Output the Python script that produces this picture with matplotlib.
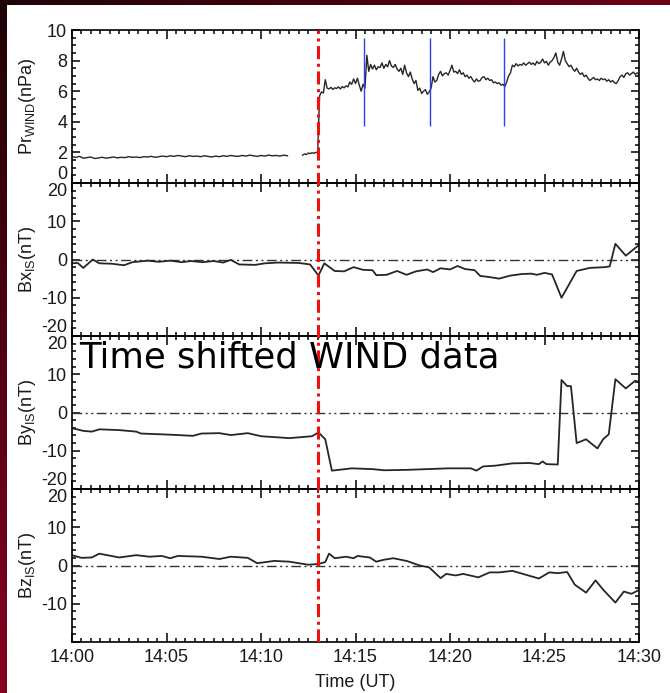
import numpy as np
import matplotlib
matplotlib.use("Agg")
import matplotlib.pyplot as plt
from matplotlib.ticker import MultipleLocator
from matplotlib.patches import Rectangle

plt.rcParams['font.family'] = ['Liberation Sans', 'DejaVu Sans']
plt.rcParams['mathtext.fontset'] = 'custom'
plt.rcParams['mathtext.rm'] = 'Liberation Sans'
plt.rcParams['mathtext.it'] = 'Liberation Sans:italic'
plt.rcParams['axes.unicode_minus'] = False

# ---------------- data (minutes after 14:00 UT) ----------------
# solar-wind dynamic pressure, quiet interval
pr_t1 = np.round(np.arange(0.0, 11.41, 0.2), 2)
pr_v1 = [1.72, 1.68, 1.74, 1.62, 1.66, 1.70, 1.60, 1.64, 1.68, 1.62,
         1.66, 1.70, 1.64, 1.68, 1.66, 1.72, 1.68, 1.70, 1.66, 1.72,
         1.70, 1.74, 1.68, 1.72, 1.76, 1.72, 1.78, 1.74, 1.80, 1.76,
         1.72, 1.78, 1.74, 1.76, 1.72, 1.78, 1.74, 1.70, 1.76, 1.72,
         1.78, 1.74, 1.80, 1.76, 1.74, 1.80, 1.76, 1.82, 1.78, 1.74,
         1.80, 1.76, 1.82, 1.78, 1.80, 1.76, 1.82, 1.78]
# dynamic pressure after the data gap, through the shock
pr_t2 = np.round(np.arange(12.2, 30.01, 0.1), 2)
pr_v2 = [1.82, 1.90, 1.86, 1.96, 1.92, 1.98, 1.94, 2.00,
         2.00, 5.70, 5.95, 5.88, 6.75, 6.20, 6.15, 6.25, 6.12, 6.22,
         6.18, 6.28, 6.15, 6.30, 6.22, 6.35, 6.28, 6.60, 6.45, 6.80,
         6.50, 6.85, 6.40, 6.00, 6.45, 6.20, 8.35, 7.30, 7.75, 7.45,
         7.70, 7.40, 7.60, 7.55, 7.85, 7.50, 7.75, 7.60, 8.00, 7.65,
         7.55, 7.75, 7.45, 7.30, 7.50, 7.10, 7.70, 7.20, 6.95, 7.25,
         6.80, 6.50, 6.70, 6.05, 6.20, 5.85, 6.00, 6.10, 5.80, 5.95,
         6.20, 6.95, 6.60, 6.70, 7.10, 7.30, 7.00, 7.15, 7.20, 7.05,
         7.35, 7.70, 7.25, 7.30, 7.15, 7.40, 7.10, 7.20, 6.95, 7.05,
         6.85, 6.95, 6.75, 6.60, 6.80, 6.65, 6.70, 6.90, 6.95, 6.75,
         6.85, 6.70, 6.75, 6.55, 6.60, 6.50, 6.55, 6.40, 6.45, 6.30,
         6.60, 7.00, 7.20, 7.70, 7.60, 7.80, 7.65, 7.75, 7.70, 7.85,
         7.70, 7.80, 7.90, 7.75, 7.85, 7.70, 7.95, 7.80, 7.90, 8.10,
         7.85, 7.95, 7.70, 7.90, 8.00, 8.20, 8.50, 7.90, 7.70, 8.10,
         8.60, 8.00, 7.80, 7.60, 7.70, 7.45, 7.30, 7.50, 7.25, 7.10,
         7.20, 6.95, 7.05, 6.85, 6.70, 6.80, 6.90, 6.75, 6.80, 6.70,
         6.85, 6.75, 6.80, 6.65, 6.75, 6.60, 6.70, 6.55, 6.50, 6.70,
         6.95, 7.05, 6.90, 7.15, 7.20, 7.05, 7.15, 7.25, 7.10, 7.20,
         7.10]
pulse_times = [15.45, 18.94, 22.86]
shock_time = 13.0

bx_t = [0.0, 0.3, 0.6, 1.1, 1.45, 2.1, 2.75, 3.2, 4.0, 4.6, 5.2, 5.8, 6.3, 6.9,
        7.5, 8.0, 8.4, 8.85, 9.7, 10.2, 10.9, 12.0, 12.6, 13.04, 13.35, 13.9,
        14.4, 14.9, 15.4, 15.9, 16.1, 16.65, 17.2, 17.7, 18.2, 18.8, 19.1, 19.5,
        20.0, 20.4, 20.8, 21.3, 21.6, 22.1, 22.6, 23.2, 23.8, 24.3, 24.6, 25.0,
        25.4, 25.9, 26.7, 27.4, 28.2, 28.45, 28.75, 29.3, 30.0]
bx_v = [-1.0, -0.9, -2.2, 0.0, -1.0, -1.1, -1.5, -0.7, -0.3, -0.6, -0.3, -0.7,
        -0.4, -0.7, -0.4, -0.8, -0.1, -1.3, -1.4, -1.0, -0.8, -0.9, -1.3, -4.2,
        -1.0, -3.0, -3.1, -2.0, -2.7, -2.8, -4.1, -4.0, -3.0, -4.0, -3.1, -2.6,
        -3.3, -2.3, -2.6, -1.7, -2.5, -2.8, -4.3, -4.6, -5.0, -4.2, -3.8, -3.7,
        -4.0, -3.5, -3.9, -10.0, -3.0, -2.2, -2.0, -1.8, 4.1, 1.0, 3.8]

by_t = [0.0, 0.6, 1.05, 1.45, 2.5, 3.4, 3.65, 5.2, 6.4, 6.85, 7.8, 8.4, 9.3,
        10.0, 11.5, 12.7, 13.04, 13.4, 13.75, 14.1, 14.8, 15.9, 16.5, 17.7,
        18.8, 19.9, 21.1, 21.4, 21.75, 22.4, 23.3, 24.2, 24.7, 24.9, 25.1, 25.7,
        25.9, 26.2, 26.4, 26.7, 27.2, 27.8, 28.1, 28.4, 28.75, 29.3, 29.8, 30.0]
by_v = [-4.1, -4.8, -5.0, -4.4, -4.6, -5.0, -5.5, -5.8, -6.1, -5.5, -5.4, -5.9,
        -5.4, -6.2, -6.7, -6.2, -5.2, -7.0, -15.2, -15.0, -14.6, -14.8, -15.1,
        -15.0, -14.8, -14.6, -14.6, -15.2, -14.1, -13.9, -13.3, -13.2, -13.5,
        -12.8, -13.5, -13.6, 8.5, 6.9, 6.9, -8.0, -7.0, -9.4, -7.0, -5.7, 8.7,
        6.3, 8.3, 8.0]

bz_t = [0.0, 0.5, 1.05, 1.44, 2.5, 3.4, 4.1, 4.75, 5.2, 5.6, 6.85, 7.8, 8.4,
        9.3, 9.8, 10.7, 11.5, 12.5, 13.04, 13.4, 13.6, 13.9, 14.5, 14.9, 15.1,
        15.75, 16.1, 16.5, 17.0, 17.7, 18.4, 18.9, 19.5, 19.8, 20.3, 20.7, 21.5,
        22.1, 22.6, 23.3, 24.0, 24.7, 25.25, 25.7, 26.2, 26.6, 27.2, 27.7, 28.1,
        28.75, 29.2, 29.6, 30.0]
bz_v = [2.7, 2.0, 2.1, 3.1, 2.1, 2.7, 2.3, 2.5, 1.9, 2.5, 2.3, 1.7, 2.3, 2.0,
        0.6, 1.2, 1.0, 0.2, 0.4, 0.9, 3.1, 1.9, 2.3, 1.9, 2.5, 2.1, 1.0, 1.5,
        1.9, 1.2, 0.0, -0.5, -3.3, -2.2, -2.6, -2.2, -3.1, -1.8, -1.8, -1.4,
        -2.4, -3.4, -1.8, -2.0, -1.7, -5.0, -7.1, -3.9, -6.3, -9.7, -6.8, -7.4,
        -6.4]

time_ticks = [0, 5, 10, 15, 20, 25, 30]
time_labels = ['14:00', '14:05', '14:10', '14:15', '14:20', '14:25', '14:30']

# ---------------- figure ----------------
W, H = 670, 693
fig = plt.figure(figsize=(W / 100, H / 100), dpi=100)

# slide background: dark maroon gradient with a white content area
bg = fig.add_axes([0, 0, 1, 1], zorder=-10)
bg.set_axis_off()
gx = np.linspace(0, 1, 64)[None, :, None]
gy = np.linspace(0, 1, 64)[:, None, None]
c_tl = np.array([0.12, 0.01, 0.03])
c_tr = np.array([0.43, 0.0, 0.09])
c_bl = np.array([0.52, 0.0, 0.12])
c_br = np.array([0.55, 0.0, 0.12])
grad = (c_tl * (1 - gx) * (1 - gy) + c_tr * gx * (1 - gy)
        + c_bl * (1 - gx) * gy + c_br * gx * gy)
bg.imshow(grad, extent=[0, 1, 0, 1], aspect='auto', origin='upper')
bg.add_patch(Rectangle((7 / W, 0), 1 - 7 / W, 1 - 5 / H, transform=bg.transAxes,
                       facecolor='white', edgecolor='none'))
bg.set_xlim(0, 1)
bg.set_ylim(0, 1)

LEFT, RIGHT, TOP, PH = 72, 639, 30, 153
line_col = '#262626'
tick_col = '#1a1a1a'


def panel(i):
    top = TOP + PH * i
    return fig.add_axes([LEFT / W, 1 - (top + PH) / H, (RIGHT - LEFT) / W, PH / H])


axes = [panel(i) for i in range(4)]

for ax in axes:
    ax.set_xlim(0, 30)
    ax.set_xticks(time_ticks)
    ax.xaxis.set_minor_locator(MultipleLocator(0.5))
    ax.tick_params(axis='both', which='both', direction='in', top=True,
                   bottom=True, left=True, right=True, width=1.1,
                   color='black', labelsize=13, labelcolor=tick_col)
    ax.tick_params(axis='x', which='major', length=6.5, pad=5)
    ax.tick_params(axis='x', which='minor', length=3)
    ax.tick_params(axis='y', which='major', length=6, pad=3.5)
    ax.tick_params(axis='y', which='minor', length=3)
    for s in ax.spines.values():
        s.set_linewidth(1.2)
    if ax is not axes[-1]:
        ax.set_xticklabels([])
    ax.set_facecolor('none')

# panel 1: dynamic pressure
ax = axes[0]
ax.plot(pr_t1, pr_v1, color=line_col, lw=1.0)
ax.plot(pr_t2, pr_v2, color=line_col, lw=1.0)
ax.vlines(pulse_times, 3.75, 9.5, color='#3040f0', lw=1.0)
ax.set_ylim(0, 10)
ax.set_yticks([0, 2, 4, 6, 8, 10])
ax.yaxis.set_minor_locator(MultipleLocator(0.5))
ax.set_ylabel(r'Pr$_{\rm WIND}$(nPa)', fontsize=13)

# panels 2-4: field components
for ax, t, v, name in [(axes[1], bx_t, bx_v, 'Bx'),
                       (axes[2], by_t, by_v, 'By'),
                       (axes[3], bz_t, bz_v, 'Bz')]:
    ax.axhline(0, color='#333333', lw=1.0, dashes=(7, 2.5, 1.5, 2.5, 1.5, 2.5))
    ax.plot(t, v, color=line_col, lw=1.3)
    ax.set_ylim(-20, 20)
    ax.set_yticks([-20, -10, 0, 10, 20])
    ax.yaxis.set_minor_locator(MultipleLocator(2))
    ax.set_ylabel(name + r'$_{\rm IS}$(nT)', fontsize=13)

axes[3].set_yticklabels(['', '-10', '0', '10', '20'])
axes[3].set_xticklabels(time_labels)
axes[3].set_xlabel('Time (UT)', fontsize=13, labelpad=6, color=tick_col)

for ax in axes:
    ax.yaxis.set_label_coords(-0.079, 0.5)
    ax.yaxis.label.set_va('center')
    ax.yaxis.label.set_color(tick_col)

# keep the edge labels of stacked panels inside their own panel
for i, ax in enumerate(axes):
    ticks = ax.yaxis.get_major_ticks()
    ticks[0].label1.set_va('bottom')
    if i > 0:
        ticks[-1].label1.set_va('top')

# shock arrival marker across all panels and annotation
ov = fig.add_axes([LEFT / W, 1 - (TOP + 4 * PH) / H, (RIGHT - LEFT) / W, 4 * PH / H],
                  zorder=5)
ov.set_axis_off()
ov.set_xlim(0, 30)
ov.set_ylim(0, 1)
ov.axvline(shock_time, color='#ee1111', lw=2.2, dashes=(4.3, 1.5, 1.0, 1.5))
ov.text(0.37, (642 - 367) / 612, 'Time shifted WIND data', fontsize=25.5,
        family=['DejaVu Sans'], color='black', va='baseline', ha='left',
        zorder=10)

fig.savefig('out.png', dpi=100)
